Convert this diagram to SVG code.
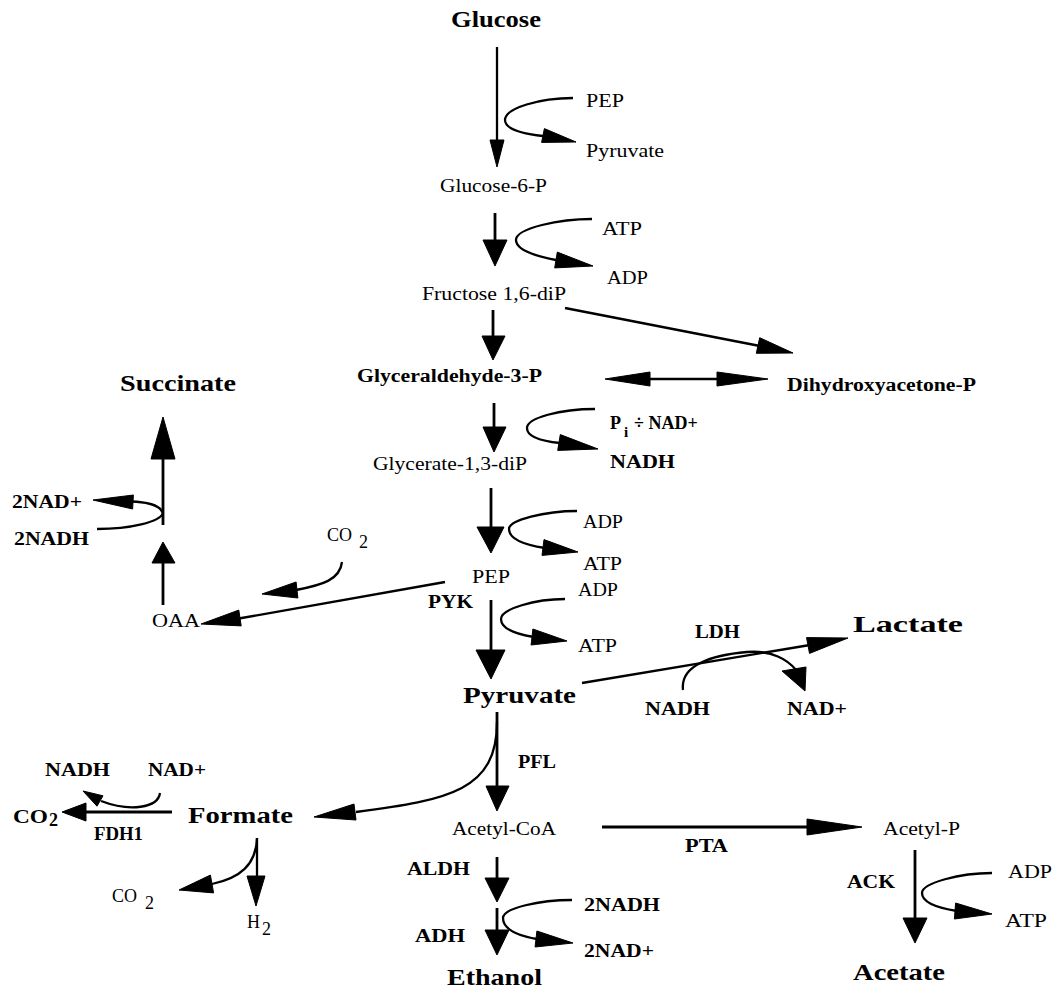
<svg xmlns="http://www.w3.org/2000/svg" width="1059" height="995" viewBox="0 0 1059 995">
<style>
.bg{fill:#fff}
.ln{stroke:#000;fill:none;stroke-width:2.8}
.cv{stroke:#000;fill:none;stroke-width:2.3}
.hd{fill:#000;stroke:#000;stroke-width:1;stroke-linejoin:round}
text{font-family:"Liberation Serif","Times New Roman",serif;font-size:18px;fill:#000}
.b{font-weight:bold}
.big{font-size:23px;font-weight:bold}
</style>
<rect class="bg" width="1059" height="995"/>
<g id="connectors">
  <!-- Glucose -> Glucose-6-P -->
  <line class="cv" x1="497" y1="47" x2="497" y2="142"/>
  <polygon class="hd" points="490,140 504,140 497,167"/>
  <path class="cv" d="M573,98 C540,98 505,108 505,120 C505,130 525,134 543,136"/>
  <polygon class="hd" points="576,142 541.6,142.4 544.4,128.6"/>
  <!-- G6P -> F16 -->
  <line class="ln" x1="495" y1="213" x2="495" y2="242"/>
  <polygon class="hd" points="483,240 507,240 495,266"/>
  <path class="cv" d="M592,219 C560,219 516,228 516,240 C516,250 535,256 556,260"/>
  <polygon class="hd" points="593,266 554.7,267.9 557.3,252.1"/>
  <!-- F16 -> G3P -->
  <line class="ln" x1="493" y1="310" x2="493" y2="338"/>
  <polygon class="hd" points="482,336 505,336 493,360"/>
  <!-- F16 -> DHAP -->
  <line class="cv" x1="565" y1="308" x2="760" y2="346"/>
  <polygon class="hd" points="793,353 756.3,353.3 759.7,337.7"/>
  <!-- G3P <-> DHAP -->
  <line class="cv" x1="640" y1="379" x2="730" y2="379"/>
  <polygon class="hd" points="605,379 650,372 650,386"/>
  <polygon class="hd" points="768,379 717,372 717,386"/>
  <!-- G3P -> Glycerate -->
  <line class="ln" x1="494" y1="403" x2="494" y2="429"/>
  <polygon class="hd" points="483,427 506,427 494,452"/>
  <path class="cv" d="M595,409 C560,409 527,418 527,428 C527,437 540,441 560,443"/>
  <polygon class="hd" points="598,449 557.7,450.4 560.3,434.6"/>
  <!-- Glycerate -> PEP -->
  <line class="ln" x1="491" y1="488" x2="491" y2="529"/>
  <polygon class="hd" points="477,527 504,527 491,553"/>
  <path class="cv" d="M577,511 C545,511 509,520 509,529 C509,539 525,545 545,548"/>
  <polygon class="hd" points="578,552 542,555.4 544,539.6"/>
  <!-- PEP -> Pyruvate -->
  <line class="ln" x1="491" y1="600" x2="491" y2="652"/>
  <polygon class="hd" points="476,650 505,650 491,679"/>
  <path class="cv" d="M565,599 C535,599 501,609 501,619 C501,629 515,634 534,637"/>
  <polygon class="hd" points="567,641 531.1,645 532.9,629"/>
  <!-- PEP -> OAA -->
  <line class="cv" x1="445" y1="582" x2="236" y2="619"/>
  <polygon class="hd" points="201,624 241.2,625.9 238.8,610.1"/>
  <path class="cv" d="M342,562 C340,580 322,585 296,590"/>
  <polygon class="hd" points="262,594 297.9,598 296.1,582"/>
  <!-- OAA -> Succinate -->
  <line class="ln" x1="163" y1="605" x2="163" y2="560"/>
  <polygon class="hd" points="163,542 152,563 175,563"/>
  <line class="ln" x1="163" y1="525" x2="163" y2="455"/>
  <polygon class="hd" points="163,417 151,459 175,459"/>
  <path class="cv" d="M97,529 C130,529 160,522 163,513 C160,505 148,502 131,501.5"/>
  <polygon class="hd" points="93,500 133.4,495 132.6,509"/>
  <!-- Pyruvate -> Lactate -->
  <line class="cv" x1="582" y1="683" x2="810" y2="645"/>
  <polygon class="hd" points="848,638 809.5,653.4 806.5,637.6"/>
  <path class="cv" d="M683,690 C680,665 712,655 747,652 C772,650 788,660 796,670"/>
  <polygon class="hd" points="782,671 806,667 805,691"/>
  <!-- Pyruvate -> Acetyl-CoA -->
  <line class="ln" x1="497" y1="712" x2="497" y2="788"/>
  <polygon class="hd" points="486,786 509,786 497,811"/>
  <!-- Pyruvate -> Formate -->
  <path class="cv" d="M497,722 C497,790 450,800 356,812"/>
  <polygon class="hd" points="314,817 356,820 354,804"/>
  <!-- Formate -> CO2 -->
  <line class="ln" x1="172" y1="812" x2="82" y2="812"/>
  <polygon class="hd" points="62,812 86,803 86,821"/>
  <path class="cv" d="M160,793 C158,808 130,812 101,801"/>
  <polygon class="hd" points="83,791 103,795.8 97,806.2"/>
  <!-- Formate -> H2 / CO2 -->
  <line class="cv" x1="257" y1="838" x2="257" y2="878"/>
  <polygon class="hd" points="256,906 247,876 265,876"/>
  <path class="cv" d="M257,838 C256,865 240,878 212,884"/>
  <polygon class="hd" points="179,890 213.6,892.9 210.4,875.1"/>
  <!-- Acetyl-CoA -> Acetyl-P -->
  <line class="ln" x1="602" y1="827" x2="810" y2="827"/>
  <polygon class="hd" points="862,827 807,819 807,835"/>
  <!-- Acetyl-CoA -> Ethanol -->
  <line class="ln" x1="497" y1="857" x2="497" y2="880"/>
  <polygon class="hd" points="485,878 509,878 497,902"/>
  <line class="ln" x1="497" y1="908" x2="497" y2="932"/>
  <polygon class="hd" points="485,930 509,930 497,955"/>
  <path class="cv" d="M572,900 C540,900 503,908 503,918 C503,930 520,936 537,939"/>
  <polygon class="hd" points="573,943 535.1,947 536.9,931"/>
  <!-- Acetyl-P -> Acetate -->
  <line class="ln" x1="915" y1="850" x2="915" y2="920"/>
  <polygon class="hd" points="903,918 927,918 915,943"/>
  <path class="cv" d="M992,873 C960,873 922,883 922,893 C922,903 938,908 957,911"/>
  <polygon class="hd" points="992,914 954.4,919 955.6,903"/>
</g>
<g id="glucose"><text class="big" x="451" y="27" textLength="90" lengthAdjust="spacingAndGlyphs">Glucose</text></g>
<g id="pep-top"><text x="586" y="107" textLength="38" lengthAdjust="spacingAndGlyphs">PEP</text></g>
<g id="pyruvate-top"><text x="586" y="157" textLength="78" lengthAdjust="spacingAndGlyphs">Pyruvate</text></g>
<g id="glucose-6-p"><text x="440" y="192" textLength="107" lengthAdjust="spacingAndGlyphs">Glucose-6-P</text></g>
<g id="atp-1"><text x="602" y="235" textLength="40" lengthAdjust="spacingAndGlyphs">ATP</text></g>
<g id="adp-1"><text x="607" y="284" textLength="41" lengthAdjust="spacingAndGlyphs">ADP</text></g>
<g id="fructose"><text x="422" y="300" textLength="144" lengthAdjust="spacingAndGlyphs">Fructose 1,6-diP</text></g>
<g id="glyceraldehyde"><text class="b" x="357" y="382" textLength="185" lengthAdjust="spacingAndGlyphs">Glyceraldehyde-3-P</text></g>
<g id="dhap"><text class="b" x="787" y="391" textLength="189" lengthAdjust="spacingAndGlyphs">Dihydroxyacetone-P</text></g>
<g id="succinate"><text class="big" x="120" y="391" textLength="116" lengthAdjust="spacingAndGlyphs">Succinate</text></g>
<g id="pi-nad"><text class="b" x="610" y="429">P<tspan x="624" y="437" font-size="15">i</tspan><tspan x="634" y="429">÷ NAD+</tspan></text></g>
<g id="nadh-1"><text class="b" x="610" y="468" textLength="65" lengthAdjust="spacingAndGlyphs">NADH</text></g>
<g id="glycerate"><text x="373" y="470" textLength="154" lengthAdjust="spacingAndGlyphs">Glycerate-1,3-diP</text></g>
<g id="nad2"><text class="b" x="12" y="508" textLength="70" lengthAdjust="spacingAndGlyphs">2NAD+</text></g>
<g id="nadh2"><text class="b" x="14" y="545" textLength="75" lengthAdjust="spacingAndGlyphs">2NADH</text></g>
<g id="co2-1"><text x="327" y="541">CO<tspan x="359" y="548">2</tspan></text></g>
<g id="adp-2"><text x="583" y="528" textLength="40" lengthAdjust="spacingAndGlyphs">ADP</text></g>
<g id="atp-2"><text x="583" y="570" textLength="39" lengthAdjust="spacingAndGlyphs">ATP</text></g>
<g id="pep-mid"><text x="472" y="583" textLength="38" lengthAdjust="spacingAndGlyphs">PEP</text></g>
<g id="pyk"><text class="b" x="428" y="608" textLength="45" lengthAdjust="spacingAndGlyphs">PYK</text></g>
<g id="adp-3"><text x="578" y="596" textLength="40" lengthAdjust="spacingAndGlyphs">ADP</text></g>
<g id="atp-3"><text x="578" y="652" textLength="39" lengthAdjust="spacingAndGlyphs">ATP</text></g>
<g id="oaa"><text x="152" y="627" textLength="48" lengthAdjust="spacingAndGlyphs">OAA</text></g>
<g id="ldh"><text class="b" x="695" y="638" textLength="45" lengthAdjust="spacingAndGlyphs">LDH</text></g>
<g id="lactate"><text class="big" x="853" y="632" textLength="110" lengthAdjust="spacingAndGlyphs">Lactate</text></g>
<g id="pyruvate"><text class="big" x="463" y="703" textLength="113" lengthAdjust="spacingAndGlyphs">Pyruvate</text></g>
<g id="nadh-ldh"><text class="b" x="645" y="715" textLength="65" lengthAdjust="spacingAndGlyphs">NADH</text></g>
<g id="nad-ldh"><text class="b" x="787" y="715" textLength="60" lengthAdjust="spacingAndGlyphs">NAD+</text></g>
<g id="pfl"><text class="b" x="518" y="768" textLength="38" lengthAdjust="spacingAndGlyphs">PFL</text></g>
<g id="nadh-fdh"><text class="b" x="45" y="776" textLength="65" lengthAdjust="spacingAndGlyphs">NADH</text></g>
<g id="nad-fdh"><text class="b" x="148" y="776" textLength="58" lengthAdjust="spacingAndGlyphs">NAD+</text></g>
<g id="co2-left"><text class="b" x="13" y="823" textLength="35" lengthAdjust="spacingAndGlyphs">CO</text><text class="b" x="49" y="826" font-size="12">2</text></g>
<g id="fdh1"><text class="b" x="94" y="840" textLength="49" lengthAdjust="spacingAndGlyphs">FDH1</text></g>
<g id="formate"><text class="big" x="188" y="823" textLength="105" lengthAdjust="spacingAndGlyphs">Formate</text></g>
<g id="co2-low"><text x="112" y="902">CO<tspan x="145" y="909">2</tspan></text></g>
<g id="h2"><text x="247" y="928">H<tspan x="262" y="935">2</tspan></text></g>
<g id="acetyl-coa"><text x="452" y="835" textLength="104" lengthAdjust="spacingAndGlyphs">Acetyl-CoA</text></g>
<g id="pta"><text class="b" x="685" y="852" textLength="43" lengthAdjust="spacingAndGlyphs">PTA</text></g>
<g id="acetyl-p"><text x="883" y="835" textLength="77" lengthAdjust="spacingAndGlyphs">Acetyl-P</text></g>
<g id="aldh"><text class="b" x="407" y="875" textLength="63" lengthAdjust="spacingAndGlyphs">ALDH</text></g>
<g id="adh"><text class="b" x="415" y="942" textLength="50" lengthAdjust="spacingAndGlyphs">ADH</text></g>
<g id="nadh-adh"><text class="b" x="584" y="911" textLength="76" lengthAdjust="spacingAndGlyphs">2NADH</text></g>
<g id="nad-adh"><text class="b" x="584" y="957" textLength="70" lengthAdjust="spacingAndGlyphs">2NAD+</text></g>
<g id="ethanol"><text class="big" x="447" y="985" textLength="95" lengthAdjust="spacingAndGlyphs">Ethanol</text></g>
<g id="ack"><text class="b" x="847" y="888" textLength="48" lengthAdjust="spacingAndGlyphs">ACK</text></g>
<g id="adp-ack"><text x="1008" y="878" textLength="44" lengthAdjust="spacingAndGlyphs">ADP</text></g>
<g id="atp-ack"><text x="1005" y="927" textLength="42" lengthAdjust="spacingAndGlyphs">ATP</text></g>
<g id="acetate"><text class="big" x="853" y="980" textLength="92" lengthAdjust="spacingAndGlyphs">Acetate</text></g>
</svg>
